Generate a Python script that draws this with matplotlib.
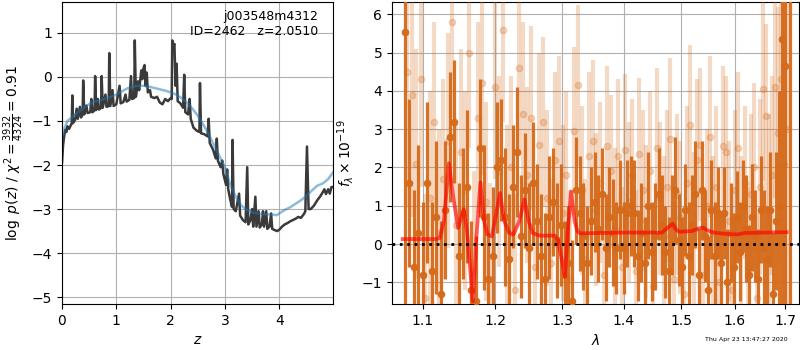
import matplotlib
matplotlib.use("Agg")
import matplotlib.pyplot as plt  # noqa: E402
from matplotlib.ticker import NullLocator  # noqa: E402

# ---- left panel: log p(z) ----
z_pz = [0.00, 0.02, 0.04, 0.06, 0.08, 0.10, 0.13, 0.16, 0.18, 0.19, 0.20, 0.24, 0.27, 0.29,
        0.33, 0.35, 0.38, 0.39, 0.41, 0.45, 0.47, 0.52, 0.54, 0.56, 0.60, 0.61, 0.63, 0.66,
        0.68, 0.72, 0.73, 0.75, 0.80, 0.82, 0.86, 0.87, 0.89, 0.93, 0.95, 1.00, 1.06, 1.08,
        1.13, 1.17, 1.19, 1.24, 1.27, 1.29, 1.33, 1.34, 1.36, 1.40, 1.42, 1.45, 1.46, 1.48,
        1.50, 1.52, 1.54, 1.56, 1.58, 1.62, 1.64, 1.70, 1.75, 1.80, 1.85, 1.90, 1.95, 2.00,
        2.02, 2.03, 2.05, 2.07, 2.09, 2.11, 2.13, 2.18, 2.23, 2.25, 2.27, 2.32, 2.35, 2.37,
        2.42, 2.48, 2.53, 2.54, 2.56, 2.62, 2.68, 2.70, 2.72, 2.78, 2.83, 2.85, 2.87, 2.92,
        2.95, 2.97, 3.02, 3.04, 3.06, 3.10, 3.13, 3.14, 3.16, 3.20, 3.26, 3.28, 3.33, 3.38,
        3.41, 3.43, 3.47, 3.50, 3.52, 3.56, 3.58, 3.62, 3.64, 3.68, 3.70, 3.72, 3.76, 3.78,
        3.82, 3.85, 3.87, 3.92, 3.96, 4.00, 4.05, 4.10, 4.15, 4.20, 4.25, 4.30, 4.35, 4.40,
        4.45, 4.48, 4.51, 4.54, 4.58, 4.64, 4.70, 4.75, 4.80, 4.83, 4.86, 4.90, 4.93, 4.96,
        5.00]
logpz = [-1.95, -1.55, -1.35, -1.20, -1.25, -1.12, -1.18, -1.10, -1.05, -0.42, -1.05, -0.98,
         -0.72, -0.95, -0.68, -0.92, -0.85, -0.08, -0.85, -0.65, -0.82, -0.80, -0.50, -0.80,
         -0.76, 0.02, -0.75, -0.50, -0.74, -0.70, 0.02, -0.70, -0.40, -0.68, -0.66, 0.54,
         -0.66, -0.30, -0.66, -0.62, -0.20, -0.60, -0.57, -0.40, -0.56, -0.52, 0.02, -0.50,
         -0.48, 0.83, -0.45, -0.10, -0.30, 0.05, 0.15, -0.05, 0.20, 0.27, -0.20, 0.10, -0.35,
         -0.30, -0.45, -0.48, -0.45, -0.58, -0.62, -0.50, -0.55, -0.48, -0.50, 0.83, 0.70,
         0.75, -0.20, 0.30, -0.55, -0.60, -0.70, 0.05, -0.80, -0.85, -0.50, -0.95, -1.15,
         -1.22, -1.25, -0.14, -1.28, -1.30, -1.35, -0.95, -1.50, -1.65, -1.85, -1.40, -1.90,
         -2.05, -1.90, -2.20, -2.45, -2.10, -2.55, -2.80, -2.95, -1.43, -3.00, -3.05, -2.65,
         -3.15, -3.25, -3.30, -2.05, -3.35, -3.25, -3.00, -3.40, -2.72, -3.40, -3.05, -3.42,
         -3.35, -3.05, -3.40, -3.05, -3.45, -3.40, -3.10, -3.45, -3.48, -3.50, -3.47, -3.40,
         -3.35, -3.32, -3.28, -3.25, -3.22, -3.18, -3.20, -3.12, -3.05, -1.58, -3.00, -3.00,
         -2.92, -2.80, -2.72, -2.62, -2.55, -2.66, -2.55, -2.65, -2.50, -2.50]

z_smooth = [0.00, 0.02, 0.05, 0.10, 0.20, 0.30, 0.40, 0.50, 0.60, 0.70, 0.80, 0.90, 1.00,
            1.10, 1.20, 1.30, 1.40, 1.50, 1.60, 1.70, 1.80, 1.90, 2.00, 2.10, 2.20, 2.30,
            2.40, 2.50, 2.60, 2.70, 2.80, 2.90, 3.00, 3.10, 3.20, 3.30, 3.40, 3.50, 3.60,
            3.70, 3.80, 3.90, 3.95, 4.00, 4.10, 4.20, 4.30, 4.40, 4.50, 4.60, 4.70, 4.80,
            4.90, 5.00]
logpz_smooth = [-1.42, -1.30, -1.15, -1.00, -0.90, -0.80, -0.70, -0.62, -0.56, -0.53, -0.49,
                -0.45, -0.40, -0.33, -0.26, -0.22, -0.20, -0.20, -0.22, -0.25, -0.28, -0.31,
                -0.35, -0.40, -0.48, -0.58, -0.72, -0.88, -1.08, -1.30, -1.55, -1.80, -2.05,
                -2.45, -2.72, -2.92, -3.02, -3.07, -3.10, -3.12, -3.12, -3.13, -3.14, -3.10,
                -3.02, -2.96, -2.88, -2.80, -2.70, -2.58, -2.47, -2.42, -2.32, -2.15]

# ---- right panel: spectrum (flux x 1e-19) ----
wave_a = [1.076, 1.082, 1.088, 1.094, 1.100, 1.106, 1.112, 1.118, 1.124, 1.130, 1.136, 1.142,
          1.148, 1.154, 1.160, 1.166, 1.172, 1.178, 1.184, 1.190, 1.196, 1.202, 1.208, 1.214,
          1.220, 1.226, 1.232, 1.238, 1.244, 1.250, 1.256, 1.262, 1.268, 1.274, 1.280, 1.286,
          1.292, 1.298, 1.304, 1.310, 1.316, 1.322, 1.328, 1.334, 1.340, 1.346, 1.352, 1.358,
          1.364, 1.370, 1.376, 1.382, 1.388, 1.394, 1.400, 1.406, 1.412, 1.418, 1.424, 1.430,
          1.436, 1.442, 1.448, 1.454, 1.460, 1.466, 1.472, 1.478, 1.484, 1.490, 1.496, 1.502,
          1.508, 1.514, 1.520, 1.526, 1.532, 1.538, 1.544, 1.550, 1.556, 1.562, 1.568, 1.574,
          1.580, 1.586, 1.592, 1.598, 1.604, 1.610, 1.616, 1.622, 1.628, 1.634, 1.640, 1.646,
          1.652, 1.658, 1.664, 1.670, 1.676, 1.682, 1.688, 1.694, 1.700, 1.711]
flux_a = [5.55, 1.6, -0.6, 0.3, -0.8, 1.6, -0.7, 0.7, -1.3, 0.9, 2.8, 3.2,
          -0.3, 0.8, 1.5, -1.2, -1.5, 2.5, 0.7, -0.9, -0.3, 2.0, 2.2, 0.7,
          -0.4, 1.5, 2.4, 0.2, 1.4, -0.1, 1.6, 0.6, -0.3, -0.9, 0.7, 1.1,
          0.1, 0.5, -0.8, -0.5, -1.5, 1.4, 0.8, 0.2, -0.5, 0.6, 1.1, 0.4,
          1.3, -0.1, 0.7, 0.3, -0.1, 0.9, -0.1, 0.8, 1.0, 0.8, -0.3, 0.3,
          -0.5, 1.0, -0.2, 0.2, 1.3, 0.5, -0.2, -0.7, 0.5, 1.4, 0.1, -0.6,
          0.9, -0.3, 0.5, 1.3, -0.8, 1.4, 0.2, -1.2, 0.9, -0.3, 0.8, -0.5,
          0.8, -1.0, 0.3, -0.6, 0.7, -0.2, 1.0, 0.4, -0.8, 0.7, 0.2, -0.9,
          0.9, -0.1, -0.4, 0.9, -1.3, 0.6, 1.0, 5.35, 4.65, 8.0]
err_a = [10.0, 2.2, 2.0, 2.3, 1.9, 2.1, 1.8, 2.0, 1.9, 1.8, 1.7, 1.6,
         1.9, 1.7, 2.0, 1.8, 1.7, 1.8, 1.9, 1.7, 1.8, 1.7, 1.6, 1.8,
         1.7, 1.6, 1.7, 1.6, 1.5, 1.7, 1.6, 1.5, 1.6, 1.7, 1.6, 1.4,
         1.5, 1.6, 1.4, 1.5, 1.6, 1.4, 1.5, 1.4, 1.5, 1.4, 1.3, 1.4,
         1.2, 1.4, 1.3, 1.4, 1.2, 1.3, 1.2, 1.4, 1.3, 1.4, 1.2, 1.3,
         1.2, 1.4, 1.3, 1.4, 1.2, 1.3, 1.2, 1.4, 1.3, 1.4, 1.2, 1.3,
         1.2, 1.4, 1.3, 1.4, 1.2, 1.3, 1.2, 1.4, 1.3, 1.4, 1.2, 1.3,
         1.2, 1.4, 1.3, 1.4, 1.2, 1.3, 1.2, 1.4, 1.3, 1.4, 1.2, 1.3,
         1.4, 1.5, 1.4, 1.5, 1.6, 1.8, 3.0, 7.0, 8.0, 12.0]

wave_b = [1.079, 1.085, 1.091, 1.097, 1.103, 1.109, 1.115, 1.121, 1.127, 1.133, 1.139, 1.145,
          1.151, 1.157, 1.163, 1.169, 1.175, 1.181, 1.187, 1.193, 1.199, 1.205, 1.211, 1.217,
          1.223, 1.229, 1.235, 1.241, 1.247, 1.253, 1.259, 1.265, 1.271, 1.277, 1.283, 1.289,
          1.295, 1.301, 1.307, 1.313, 1.319, 1.325, 1.331, 1.337, 1.343, 1.349, 1.355, 1.361,
          1.367, 1.373, 1.379, 1.385, 1.391, 1.397, 1.403, 1.409, 1.415, 1.421, 1.427, 1.433,
          1.439, 1.445, 1.451, 1.457, 1.463, 1.469, 1.475, 1.481, 1.487, 1.493, 1.499, 1.505,
          1.511, 1.517, 1.523, 1.529, 1.535, 1.541, 1.547, 1.553, 1.559, 1.565, 1.571, 1.577,
          1.583, 1.589, 1.595, 1.601, 1.607, 1.613, 1.619, 1.625, 1.631, 1.637, 1.643, 1.649,
          1.655, 1.661, 1.667, 1.673, 1.679, 1.685, 1.691, 1.697, 1.703]
flux_b = [4.5, 3.9, 2.1, 4.3, -1.4, 1.2, 3.2, 0.3, 1.7, 2.7, 5.8, 0.5,
          2.4, 1.4, 5.0, -0.7, 3.3, 4.2, 1.1, -0.9, 4.1, 1.9, 5.6, 0.6,
          2.0, -1.2, 4.6, 3.4, 1.8, 3.3, -0.6, 2.6, 3.2, 1.2, -0.5, 2.2,
          2.7, 0.8, 1.8, -0.9, 2.95, 4.15, 1.4, -0.4, 2.3, 2.7, 0.9, 1.6,
          -0.8, 2.55, 1.9, 0.4, 2.3, -0.6, 2.45, 1.1, 1.8, -0.7, 2.35, 1.4,
          0.6, 1.9, -1.1, 2.5, 1.2, 0.2, 1.5, 2.75, -0.9, 1.3, 0.7, -1.3,
          1.6, 3.1, 0.4, 2.2, 2.6, -0.8, 1.0, 2.8, 0.3, 1.5, -1.0, 2.55,
          2.4, 0.6, -1.2, 1.4, 2.5, 0.2, 1.6, -0.6, 1.3, 2.0, -1.4, 1.5,
          4.05, 3.35, 0.9, 1.8, 4.1, 2.9, 4.3, 2.1, 3.0]
err_b = [3.5, 3.2, 3.0, 2.8, 2.7, 2.8, 2.6, 2.7, 2.6, 2.8, 2.5, 2.6,
         2.7, 2.6, 2.5, 2.6, 2.5, 2.4, 2.6, 2.5, 2.4, 2.5, 2.4, 2.5,
         2.4, 2.5, 2.3, 2.4, 2.3, 2.4, 2.3, 2.4, 2.2, 2.3, 2.2, 2.3,
         2.2, 2.3, 2.2, 2.3, 2.2, 2.1, 2.2, 2.1, 2.2, 2.1, 2.0, 2.1,
         2.0, 2.1, 2.0, 2.1, 2.0, 2.1, 2.0, 2.1, 2.0, 2.1, 2.0, 2.1,
         2.0, 2.1, 2.0, 2.1, 2.0, 2.1, 2.0, 2.1, 2.0, 2.1, 2.0, 2.1,
         2.0, 2.1, 2.0, 2.1, 2.0, 2.1, 2.0, 2.1, 2.0, 2.1, 2.0, 2.1,
         2.0, 2.1, 2.0, 2.1, 2.0, 2.1, 2.0, 2.1, 2.1, 2.2, 2.2, 2.3,
         2.4, 2.4, 2.5, 2.6, 2.9, 3.3, 4.0, 5.0, 6.0]

wave_model = [1.0735, 1.118, 1.1226, 1.128, 1.1349, 1.141, 1.1475, 1.1553, 1.160, 1.168,
              1.173, 1.1787, 1.184, 1.1887, 1.195, 1.2066, 1.213, 1.220, 1.2264, 1.235,
              1.2426, 1.249, 1.255, 1.265, 1.2887, 1.294, 1.3047, 1.309, 1.3143, 1.320,
              1.3245, 1.329, 1.400, 1.466, 1.478, 1.485, 1.491, 1.497, 1.520, 1.531,
              1.540, 1.548, 1.560, 1.580, 1.605, 1.620, 1.703]
flux_model = [0.13, 0.13, 0.16, 0.60, 2.11, 1.20, 0.42, 0.91, 0.30, -1.50,
              0.20, 1.61, 0.60, 0.25, 0.20, 1.33, 0.60, 0.29, 0.25, 0.60,
              1.17, 0.60, 0.29, 0.22, 0.22, 0.10, -0.85, 0.30, 1.37, 0.60,
              0.33, 0.28, 0.30, 0.30, 0.45, 0.53, 0.38, 0.32, 0.34, 0.40,
              0.43, 0.36, 0.30, 0.27, 0.25, 0.29, 0.31]

spec_ticks = [1.1, 1.2, 1.3, 1.4, 1.5, 1.6, 1.7]
orange = "#d56a1a"

fig = plt.figure(figsize=(8, 3.5), dpi=100)
ax1 = fig.add_axes([0.0775, 0.131, 0.3388, 0.863])
ax2 = fig.add_axes([0.49, 0.131, 0.509, 0.863])

# p(z)
ax1.plot(z_pz, logpz, color="#3a3a3a", lw=1.8)
ax1.plot(z_smooth, logpz_smooth, color="tab:blue", alpha=0.5, lw=1.8)
ax1.set_xlim(0, 4.99)
ax1.set_ylim(-5.16, 1.70)
ax1.set_xticks([0, 1, 2, 3, 4])
ax1.set_yticks([-5, -4, -3, -2, -1, 0, 1])
ax1.set_xlabel(r"$z$")
ax1.set_ylabel(r"$\log\ p(z)$ / $\chi^2=\frac{3932}{4324}=0.91$")
ax1.text(0.945, 0.975, "j003548m4312\nID=2462   z=2.0510", transform=ax1.transAxes,
         ha="right", va="top", multialignment="right", fontsize=9)
ax1.grid()

# spectrum
ax2.errorbar(wave_b, flux_b, yerr=err_b, fmt="o", color=orange, alpha=0.25,
             ms=4.5, elinewidth=3.0, capsize=0, zorder=3)
ax2.errorbar(wave_a, flux_a, yerr=err_a, fmt="o", color=orange, alpha=0.95,
             ms=4.5, elinewidth=2.3, capsize=0, zorder=4)
ax2.plot(wave_model, flux_model, color="red", alpha=0.65, lw=2.7, zorder=5)
ax2.axhline(0, color="k", ls=":", lw=2, zorder=6)
ax2.set_xscale("log")
ax2.set_xlim(1.0598, 1.729)
ax2.set_ylim(-1.57, 6.32)
ax2.set_xticks(spec_ticks)
ax2.set_xticklabels([f"{t:.1f}" for t in spec_ticks])
ax2.xaxis.set_minor_locator(NullLocator())
ax2.set_yticks([-1, 0, 1, 2, 3, 4, 5, 6])
ax2.set_xlabel(r"$\lambda$")
ax2.set_ylabel(r"$f_\lambda\times10^{-19}$")
ax2.grid()

fig.text(0.985, 0.031, "Thu Apr 23 13:47:27 2020", ha="right", va="center", fontsize=4.5)

fig.savefig("out.png", dpi=100)
